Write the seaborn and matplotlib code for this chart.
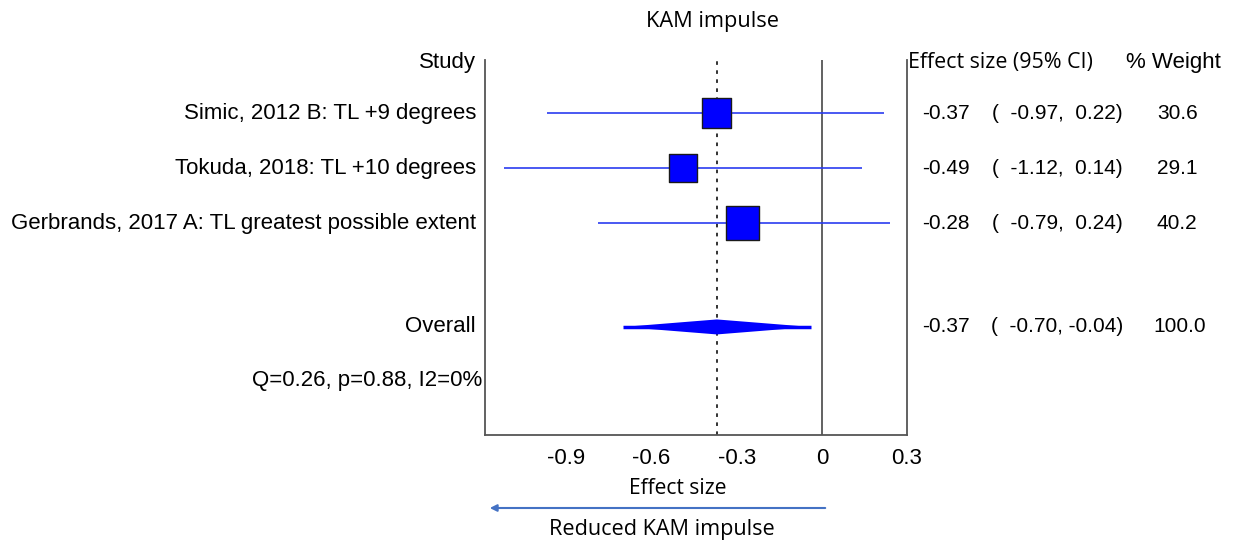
import numpy as np
import pandas as pd
import matplotlib
matplotlib.use('Agg')
import matplotlib.pyplot as plt
import seaborn as sns

# study data
studies = ['Simic, 2012 B: TL +9 degrees',
           'Tokuda, 2018: TL +10 degrees',
           'Gerbrands, 2017 A: TL greatest possible extent']
effect = [-0.37, -0.49, -0.28]
ci_low = [-0.97, -1.12, -0.79]
ci_high = [0.22, 0.14, 0.24]
weight = [30.6, 29.1, 40.2]

overall_effect = -0.37
overall_low = -0.70
overall_high = -0.04
overall_weight = 100.0
heterogeneity = 'Q=0.26, p=0.88, I2=0%'

xticks = [-0.9, -0.6, -0.3, 0, 0.3]
xtick_labels = ['-0.9', '-0.6', '-0.3', '0', '0.3']

sns.set_theme(style='white')
plt.rcParams['font.family'] = ['Liberation Sans', 'DejaVu Sans']
plt.rcParams['text.color'] = 'black'
plt.rcParams['xtick.labelcolor'] = 'black'

W, H = 1238, 546
fig = plt.figure(figsize=(W / 100, H / 100), dpi=100)
ax = fig.add_axes([485 / W, 1 - 435 / H, (907 - 485) / W, (435 - 60) / H])

rows = np.arange(1, len(studies) + 1)
overall_row = 4.89
q_row = 5.855
header_row = 0.073

df = pd.DataFrame({'study': studies, 'es': effect, 'lo': ci_low,
                   'hi': ci_high, 'w': weight, 'row': rows})

# reference lines
ax.axvline(0, color='#555555', lw=1.3, zorder=1)
ax.axvline(overall_effect, color='#222222', lw=1.3, ls=(0, (2, 3)), zorder=1)

# confidence intervals
ax.hlines(df['row'], df['lo'], df['hi'], color='#2b3cf0', lw=1.2, zorder=2)
# squares sized by weight
sns.scatterplot(data=df, x='es', y='row', size='w', sizes=(0, 1430),
                size_norm=(0, 100), marker='s', color='#0000ff',
                edgecolor='#1a1a1a', linewidth=1, legend=False, zorder=3, ax=ax)

# overall diamond
h = 7.5 / 55
ax.fill([overall_low, overall_effect, overall_high, overall_effect],
        [overall_row, overall_row - h, overall_row, overall_row + h],
        color='#0000ff', lw=0, zorder=3)
ax.hlines(overall_row, overall_low, overall_high, color='#0000ff', lw=2.5, zorder=3)

ax.set_xlim(-1.187, 0.30)
ax.set_ylim(6.855, 0.036)
ax.set_xticks(xticks)
ax.set_xticklabels(xtick_labels, fontsize=16)
ax.set_yticks([])
ax.set_xlabel('')
ax.set_ylabel('')
ax.tick_params(axis='x', direction='out', length=3, width=1, color='#555555', pad=6)
for side in ['left', 'right', 'bottom']:
    ax.spines[side].set_color('#555555')
    ax.spines[side].set_linewidth(1.3)
ax.spines['top'].set_visible(False)

tr = ax.get_yaxis_transform()
fs = 16
fs_r = 15
ax.text(-0.0213, header_row, 'Study', transform=tr, ha='right', va='center', fontsize=fs)
for _, r in df.iterrows():
    ax.text(-0.0213, r['row'], r['study'], transform=tr, ha='right', va='center', fontsize=fs)
    ax.text(1.0355, r['row'], f"{r['es']:.2f}", transform=tr, ha='left', va='center', fontsize=fs_r)
    ax.text(1.512, r['row'], f"(  {r['lo']:.2f},  {r['hi']:.2f})", transform=tr,
            ha='right', va='center', fontsize=fs_r)
    ax.text(1.592, r['row'], f"{r['w']:.1f}", transform=tr, ha='left', va='center', fontsize=fs_r)

ax.text(-0.0213, overall_row, 'Overall', transform=tr, ha='right', va='center', fontsize=fs)
ax.text(1.0355, overall_row, f"{overall_effect:.2f}", transform=tr, ha='left', va='center', fontsize=fs_r)
ax.text(1.512, overall_row, f"(  {overall_low:.2f}, {overall_high:.2f})", transform=tr,
        ha='right', va='center', fontsize=fs_r)
ax.text(1.583, overall_row, f"{overall_weight:.1f}", transform=tr, ha='left', va='center', fontsize=fs_r)
ax.text(-0.007, q_row, heterogeneity, transform=tr, ha='right', va='center', fontsize=fs)

seg = ['Open Sans', 'DejaVu Sans']
ax.text(1.002, header_row, 'Effect size (95% CI)', transform=tr, ha='left', va='center',
        fontsize=15.4, family=seg)
ax.text(1.519, header_row, '% Weight', transform=tr, ha='left', va='center', fontsize=fs)

# titles and direction arrow
fig.text(712 / W, 1 - 22 / H, 'KAM impulse', ha='center', va='center', fontsize=15.7, family=seg)
fig.text(678 / W, 1 - 488 / H, 'Effect size', ha='center', va='center', fontsize=15.2, family=seg)
fig.text(662 / W, 1 - 530 / H, 'Reduced KAM impulse', ha='center', va='center', fontsize=15.6, family=seg)
ax.annotate('', xy=(487 / W, 1 - 508 / H), xytext=(828 / W, 1 - 508 / H),
            xycoords='figure fraction', textcoords='figure fraction',
            arrowprops=dict(arrowstyle='-|>', color='#4472C4', lw=1.5, mutation_scale=10))

fig.savefig('out.png', dpi=100)
